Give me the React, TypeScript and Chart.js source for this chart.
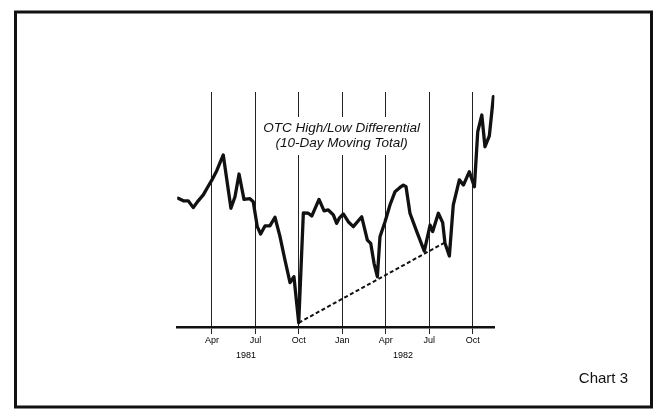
import React, { useEffect, useRef } from "react";
import { Chart, registerables } from "chart.js";

Chart.register(...registerables);

// Time axis: months counted from Jan 1981 (0 = Jan 1981, 12 = Jan 1982)
const months = [
  0.67, 1.02, 1.36, 1.71, 2.05, 2.4, 2.75, 3.0, 3.33, 3.78,
  4.31, 4.59, 4.87, 5.21, 5.62, 5.85, 6.13, 6.36, 6.66, 7.0,
  7.35, 7.69, 8.04, 8.39, 8.66, 8.99, 9.31, 9.65, 9.89, 10.39,
  10.74, 11.03, 11.38, 11.61, 11.79, 12.07, 12.41, 12.76, 13.34, 13.73,
  13.96, 14.19, 14.42, 14.6, 14.95, 15.29, 15.64, 15.98, 16.21, 16.4,
  16.67, 17.14, 17.66, 18.06, 18.24, 18.63, 18.93, 19.09, 19.39, 19.66,
  20.08, 20.36, 20.77, 21.12, 21.35, 21.63, 21.85, 22.15, 22.43,
];
const differential = [
  54.8, 53.7, 53.7, 50.8, 53.7, 56.2, 60.0, 62.6, 66.5, 73.2,
  50.5, 55.4, 65.1, 54.3, 54.6, 53.3, 42.7, 39.6, 43.0, 43.0,
  46.7, 38.7, 28.5, 18.9, 21.4, 1.8, 48.6, 48.4, 47.2, 54.3,
  49.4, 49.8, 47.7, 44.1, 46.3, 48.1, 44.8, 42.7, 46.9, 37.0,
  35.6, 27.1, 21.4, 38.4, 44.8, 51.9, 57.6, 59.4, 60.4, 59.7,
  48.4, 40.6, 32.3, 43.4, 40.6, 48.4, 44.4, 35.6, 30.2, 51.9,
  62.6, 60.4, 66.1, 59.7, 83.1, 90.2, 76.7, 81.3, 98.0,
];
const trendMonths = [8.99, 19.09];
const trendValues = [1.8, 36.0];

const quarterTicks = [3, 6, 9, 12, 15, 18, 21];
const quarterLabels = ["Apr", "Jul", "Oct", "Jan", "Apr", "Jul", "Oct"];
const yearTicks = [5.35, 16.19];
const yearLabels = ["1981", "1982"];
const titleLines = ["OTC High/Low Differential", "(10-Day Moving Total)"];
const chartLabel = "Chart 3";

const X_MIN = 0.6;
const X_MAX = 22.5;

const decor = {
  id: "decor",
  beforeDraw(chart: any) {
    const ctx = chart.ctx;
    ctx.save();
    ctx.fillStyle = "#fff";
    ctx.fillRect(0, 0, chart.width, chart.height);
    ctx.lineWidth = 3;
    ctx.strokeStyle = "#111";
    ctx.strokeRect(15.5, 12, 636, 395);
    ctx.restore();
  },
  beforeDatasetsDraw(chart: any) {
    const ctx = chart.ctx;
    const x = chart.scales.x;
    const top = chart.chartArea.top;
    ctx.save();
    ctx.font = 'italic 13.5px "Liberation Sans", Arial, sans-serif';
    const cx = x.getPixelForValue(11.95);
    const w = Math.max(...titleLines.map((t) => ctx.measureText(t).width));
    ctx.fillStyle = "#fff";
    ctx.fillRect(cx - w / 2 - 5, top + 25, w + 10, 38);
    ctx.fillStyle = "#111";
    ctx.textAlign = "center";
    ctx.textBaseline = "middle";
    ctx.fillText(titleLines[0], cx, top + 36.5);
    ctx.fillText(titleLines[1], cx, top + 51);
    ctx.restore();
  },
  afterDraw(chart: any) {
    const ctx = chart.ctx;
    ctx.save();
    ctx.font = '15px "Liberation Sans", Arial, sans-serif';
    ctx.fillStyle = "#111";
    ctx.textAlign = "right";
    ctx.textBaseline = "middle";
    ctx.fillText(chartLabel, 628, 379);
    ctx.restore();
  },
};

export default function App() {
  const ref = useRef<HTMLCanvasElement | null>(null);

  useEffect(() => {
    if (!ref.current) return;
    const chart = new Chart(ref.current, {
      type: "line",
      data: {
        datasets: [
          {
            data: months.map((m, i) => ({ x: m, y: differential[i] })),
            borderColor: "#111",
            borderWidth: 3.3,
            pointRadius: 0,
            tension: 0,
            borderJoinStyle: "round",
            borderCapStyle: "round",
            fill: false,
          },
          {
            data: trendMonths.map((m, i) => ({ x: m, y: trendValues[i] })),
            borderColor: "#111",
            borderWidth: 2,
            borderDash: [4, 2.5],
            pointRadius: 0,
            tension: 0,
            fill: false,
          },
        ],
      },
      options: {
        animation: false,
        responsive: false,
        devicePixelRatio: 1,
        layout: { padding: { left: 177.2, right: 163.6, top: 92, bottom: 55 } },
        plugins: { legend: { display: false }, tooltip: { enabled: false }, title: { display: false } },
        scales: {
          x: {
            type: "linear",
            position: "bottom",
            weight: 0,
            min: X_MIN,
            max: X_MAX,
            afterBuildTicks: (scale: any) => {
              scale.ticks = quarterTicks.map((v) => ({ value: v }));
            },
            afterFit: (scale: any) => {
              scale.height = 20;
            },
            grid: {
              display: true,
              drawOnChartArea: true,
              drawTicks: true,
              tickLength: 7,
              color: "#222",
              lineWidth: 1,
            },
            border: { display: true, color: "#111", width: 2.5 },
            ticks: {
              autoSkip: false,
              maxRotation: 0,
              padding: 1.5,
              color: "#000",
              font: { family: '"Liberation Sans", Arial, sans-serif', size: 9 },
              callback: (_v: any, i: number) => quarterLabels[i],
            },
          },
          x2: {
            type: "linear",
            position: "bottom",
            weight: 1,
            min: X_MIN,
            max: X_MAX,
            afterBuildTicks: (scale: any) => {
              scale.ticks = yearTicks.map((v) => ({ value: v }));
            },
            afterFit: (scale: any) => {
              scale.height = 16;
            },
            grid: { display: false, drawTicks: false },
            border: { display: false },
            ticks: {
              autoSkip: false,
              maxRotation: 0,
              padding: 3.5,
              color: "#000",
              font: { family: '"Liberation Sans", Arial, sans-serif', size: 9 },
              callback: (_v: any, i: number) => yearLabels[i],
            },
          },
          y: {
            type: "linear",
            min: 0,
            max: 100,
            display: false,
          },
        },
      },
      plugins: [decor],
    } as any);
    return () => chart.destroy();
  }, []);

  return (
    <div style={{ position: "fixed", left: 0, top: 0, width: 658, height: 418, background: "#fff" }}>
      <canvas ref={ref} width={658} height={418} style={{ display: "block" }} />
    </div>
  );
}
